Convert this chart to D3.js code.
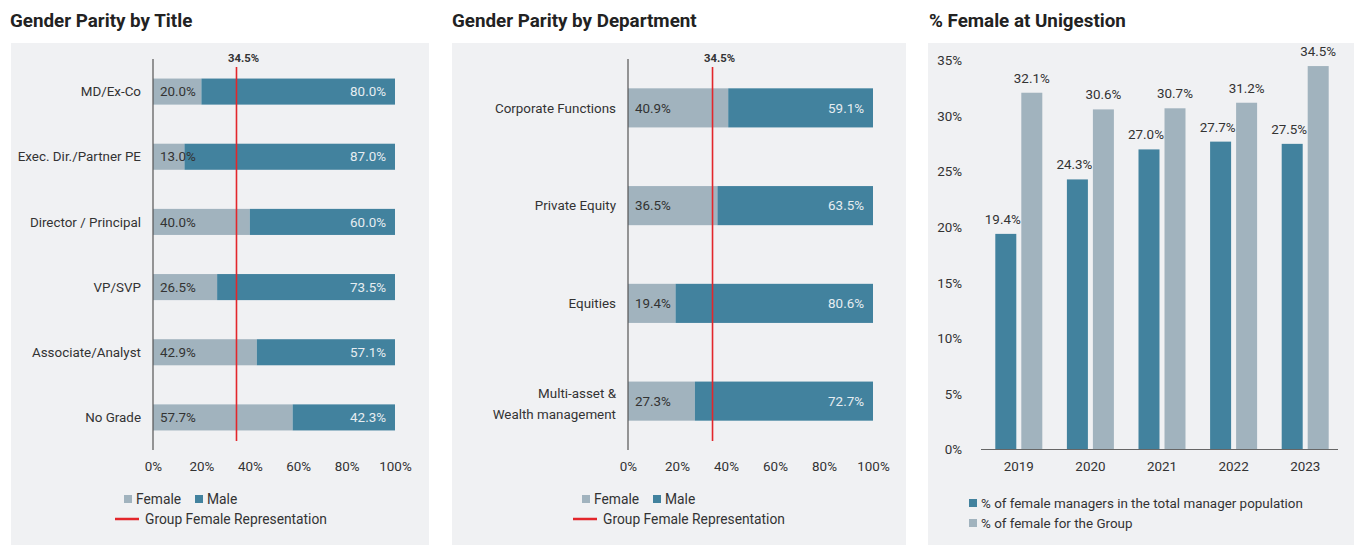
<!DOCTYPE html>
<html>
<head>
<meta charset="utf-8">
<script src="https://cdn.jsdelivr.net/npm/d3@7"></script>
<style>
  body { margin: 0; background: #fff; font-family: Roboto, "Noto Sans", sans-serif; }
  svg text { font-family: Roboto, "Noto Sans", sans-serif; }
</style>
</head>
<body>
<svg id="chart" width="1354" height="547"></svg>
<script>
// Data
var titleCats = ["MD/Ex-Co", "Exec. Dir./Partner PE", "Director / Principal", "VP/SVP", "Associate/Analyst", "No Grade"];
var titleFemale = [20.0, 13.0, 40.0, 26.5, 42.9, 57.7];
var titleMale = [80.0, 87.0, 60.0, 73.5, 57.1, 42.3];

var deptCats = ["Corporate Functions", "Private Equity", "Equities", "Multi-asset &\nWealth management"];
var deptFemale = [40.9, 36.5, 19.4, 27.3];
var deptMale = [59.1, 63.5, 80.6, 72.7];

var groupFemale = 34.5;
var xTicks = [0, 20, 40, 60, 80, 100];

var years = ["2019", "2020", "2021", "2022", "2023"];
var managerPct = [19.4, 24.3, 27.0, 27.7, 27.5];
var groupPct = [32.1, 30.6, 30.7, 31.2, 34.5];
var yTicks = [0, 5, 10, 15, 20, 25, 30, 35];

var DARK = "#42829e";
var LIGHT = "#a1b3be";
var RED = "#e3262b";
var PANEL = "#f0f1f3";
var TEXT = "#333";
var FS = "13.4px";

var svg = d3.select("#chart");

// panels + titles
var panels = [
  { x: 11, w: 418, title: "Gender Parity by Title", tx: 10 },
  { x: 452, w: 454, title: "Gender Parity by Department", tx: 452 },
  { x: 928, w: 426, title: "% Female at Unigestion", tx: 929 }
];
panels.forEach(function (p) {
  svg.append("rect")
    .attr("x", p.x).attr("y", 43)
    .attr("width", p.w).attr("height", 502)
    .attr("fill", PANEL);
  svg.append("text")
    .attr("x", p.tx).attr("y", 27)
    .attr("font-size", "18.8px")
    .attr("font-weight", "bold")
    .attr("fill", "#222")
    .text(p.title);
});

// Horizontal stacked bar chart
function parityChart(opts) {
  var g = svg.append("g");
  var x = d3.scaleLinear().domain([0, 100]).range([opts.x0, opts.x1]);
  var y = d3.scaleBand().domain(opts.cats).range([59, 450])
    .paddingInner(0.6).paddingOuter(0.3);

  var rows = opts.cats.map(function (c, i) {
    return { cat: c, female: opts.female[i], male: opts.male[i] };
  });

  // female
  g.selectAll(".f").data(rows).enter().append("rect")
    .attr("x", x(0))
    .attr("y", function (d) { return y(d.cat); })
    .attr("width", function (d) { return x(d.female) - x(0); })
    .attr("height", y.bandwidth())
    .attr("fill", LIGHT);
  // male
  g.selectAll(".m").data(rows).enter().append("rect")
    .attr("x", function (d) { return x(d.female); })
    .attr("y", function (d) { return y(d.cat); })
    .attr("width", function (d) { return x(100) - x(d.female); })
    .attr("height", y.bandwidth())
    .attr("fill", DARK);

  // value labels
  g.selectAll(".fl").data(rows).enter().append("text")
    .attr("x", x(0) + 7)
    .attr("y", function (d) { return y(d.cat) + y.bandwidth() / 2; })
    .attr("dy", "0.35em")
    .attr("font-size", FS)
    .attr("fill", TEXT)
    .text(function (d) { return d.female.toFixed(1) + "%"; });
  g.selectAll(".ml").data(rows).enter().append("text")
    .attr("x", x(100) - 9)
    .attr("y", function (d) { return y(d.cat) + y.bandwidth() / 2; })
    .attr("dy", "0.35em")
    .attr("text-anchor", "end")
    .attr("font-size", FS)
    .attr("fill", "#e6edf1")
    .text(function (d) { return d.male.toFixed(1) + "%"; });

  // category labels (two-line labels sit a little low, as in the original)
  var cl = g.selectAll(".cl").data(rows).enter().append("text")
    .attr("x", x(0) - 12)
    .attr("y", function (d) { return y(d.cat) + y.bandwidth() / 2; })
    .attr("text-anchor", "end")
    .attr("font-size", FS)
    .attr("fill", TEXT);
  cl.each(function (d) {
    var lines = d.cat.split("\n");
    var t = d3.select(this);
    lines.forEach(function (ln, i) {
      t.append("tspan")
        .attr("x", x(0) - 12)
        .attr("dy", i === 0 ? (lines.length > 1 ? "-0.25em" : "0.35em") : "1.6em")
        .text(ln);
    });
  });

  // vertical axis line
  g.append("line")
    .attr("x1", x(0)).attr("x2", x(0))
    .attr("y1", 59).attr("y2", 450)
    .attr("stroke", "#555").attr("stroke-width", 1.2);

  // x axis ticks
  var xAxis = d3.axisBottom(x).tickValues(xTicks)
    .tickFormat(function (d) { return d + "%"; }).tickSize(0).tickPadding(0);
  var ax = g.append("g").attr("transform", "translate(0,461)").call(xAxis);
  ax.select(".domain").remove();
  ax.selectAll("text").attr("font-size", FS).attr("fill", TEXT)
    .style("font-family", "Roboto, sans-serif");

  // group representation line
  g.append("line")
    .attr("x1", x(groupFemale)).attr("x2", x(groupFemale))
    .attr("y1", 67).attr("y2", 441)
    .attr("stroke", RED).attr("stroke-width", 1.6);
  g.append("text")
    .attr("x", x(groupFemale) + 7).attr("y", 62)
    .attr("text-anchor", "middle")
    .attr("font-size", "11.3px").attr("font-weight", "bold")
    .attr("fill", TEXT)
    .text(groupFemale.toFixed(1) + "%");

  // legend
  var lx = opts.legendX;
  g.append("rect").attr("x", lx).attr("y", 495).attr("width", 8).attr("height", 8).attr("fill", LIGHT);
  g.append("text").attr("x", lx + 12).attr("y", 504).attr("font-size", "13.8px").attr("fill", TEXT).text("Female");
  g.append("rect").attr("x", lx + 71).attr("y", 495).attr("width", 8).attr("height", 8).attr("fill", DARK);
  g.append("text").attr("x", lx + 83).attr("y", 504).attr("font-size", "13.8px").attr("fill", TEXT).text("Male");
  g.append("line").attr("x1", lx - 9).attr("x2", lx + 15).attr("y1", 519).attr("y2", 519)
    .attr("stroke", RED).attr("stroke-width", 2.5);
  g.append("text").attr("x", lx + 21).attr("y", 524).attr("font-size", "13.8px").attr("fill", TEXT)
    .text("Group Female Representation");
}

parityChart({ cats: titleCats, female: titleFemale, male: titleMale, x0: 153, x1: 395, legendX: 124 });
parityChart({ cats: deptCats, female: deptFemale, male: deptMale, x0: 628, x1: 873, legendX: 582 });

// Grouped vertical bar chart
(function () {
  var g = svg.append("g");
  var x = d3.scaleBand().domain(years).range([983, 1341]);
  var y = d3.scaleLinear().domain([0, 35]).range([449.5, 60.5]);
  var bw = 21, gap = 5;

  var rows = years.map(function (yr, i) {
    return { year: yr, m: managerPct[i], g: groupPct[i] };
  });

  function cx(d) { return x(d.year) + x.bandwidth() / 2; }

  g.selectAll(".dm").data(rows).enter().append("rect")
    .attr("x", function (d) { return cx(d) - bw - gap / 2; })
    .attr("y", function (d) { return y(d.m); })
    .attr("width", bw)
    .attr("height", function (d) { return y(0) - y(d.m); })
    .attr("fill", DARK);
  g.selectAll(".dg").data(rows).enter().append("rect")
    .attr("x", function (d) { return cx(d) + gap / 2; })
    .attr("y", function (d) { return y(d.g); })
    .attr("width", bw)
    .attr("height", function (d) { return y(0) - y(d.g); })
    .attr("fill", LIGHT);

  g.selectAll(".lm").data(rows).enter().append("text")
    .attr("x", function (d) { return cx(d) - bw / 2 - gap / 2 - 3; })
    .attr("y", function (d) { return y(d.m) - 10; })
    .attr("text-anchor", "middle")
    .attr("font-size", FS).attr("fill", TEXT)
    .text(function (d) { return d.m.toFixed(1) + "%"; });
  g.selectAll(".lg").data(rows).enter().append("text")
    .attr("x", function (d) { return cx(d) + bw / 2 + gap / 2; })
    .attr("y", function (d) { return y(d.g) - 10; })
    .attr("text-anchor", "middle")
    .attr("font-size", FS).attr("fill", TEXT)
    .text(function (d) { return d.g.toFixed(1) + "%"; });

  // y axis labels
  var yAxis = d3.axisLeft(y).tickValues(yTicks)
    .tickFormat(function (d) { return d + "%"; }).tickSize(0).tickPadding(0);
  var ay = g.append("g").attr("transform", "translate(962,0)").call(yAxis);
  ay.select(".domain").remove();
  ay.selectAll("text").attr("font-size", FS).attr("fill", TEXT)
    .style("font-family", "Roboto, sans-serif");

  // baseline
  g.append("line")
    .attr("x1", 981).attr("x2", 1338)
    .attr("y1", y(0)).attr("y2", y(0))
    .attr("stroke", "#666").attr("stroke-width", 1.2);

  // x axis labels
  var xAxis = d3.axisBottom(x).tickSize(0).tickPadding(0);
  var ax = g.append("g").attr("transform", "translate(0,461)").call(xAxis);
  ax.select(".domain").remove();
  ax.selectAll("text").attr("font-size", FS).attr("fill", TEXT)
    .style("font-family", "Roboto, sans-serif");

  // legend
  g.append("rect").attr("x", 969).attr("y", 499).attr("width", 8).attr("height", 8).attr("fill", DARK);
  g.append("text").attr("x", 981).attr("y", 507.5).attr("font-size", FS).attr("fill", TEXT)
    .text("% of female managers in the total manager population");
  g.append("rect").attr("x", 969).attr("y", 519).attr("width", 8).attr("height", 8).attr("fill", LIGHT);
  g.append("text").attr("x", 981).attr("y", 527.5).attr("font-size", FS).attr("fill", TEXT)
    .text("% of female for the Group");
})();
</script>
</body>
</html>
